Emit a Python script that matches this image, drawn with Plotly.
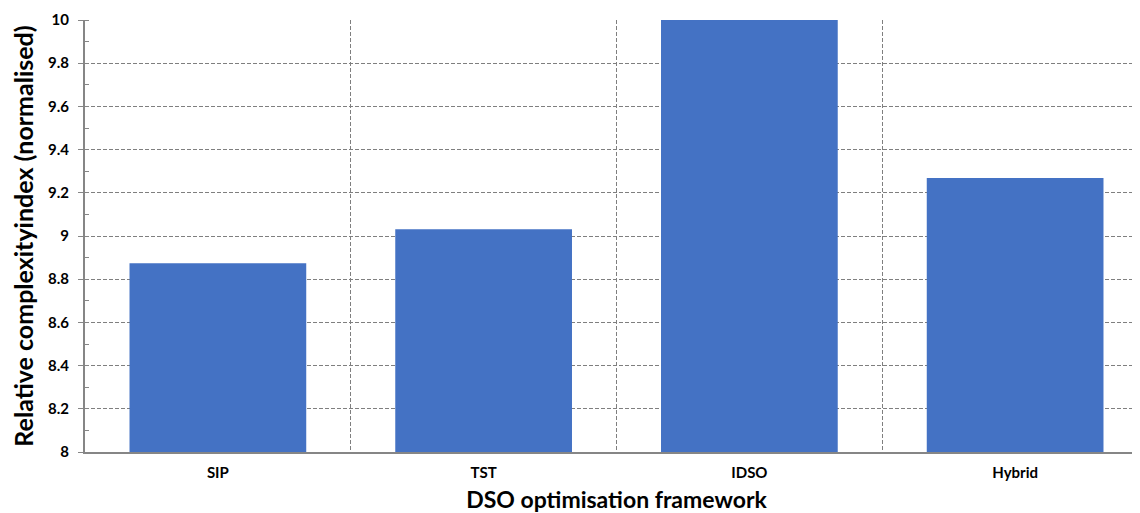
import plotly.graph_objects as go

categories = ["SIP", "TST", "IDSO", "Hybrid"]
values = [8.874, 9.031, 10.0, 9.268]
y_tickvals = [8, 8.2, 8.4, 8.6, 8.8, 9, 9.2, 9.4, 9.6, 9.8, 10]
y_ticktext = ["8", "8.2", "8.4", "8.6", "8.8", "9", "9.2", "9.4", "9.6", "9.8", "10"]

FONT = "Lato"
BAR = "#4472C4"
AXIS = "#868686"
GRID = "#7f7f7f"

fig = go.Figure()
fig.add_trace(go.Bar(
    x=categories, y=values, width=0.665,
    marker=dict(color=BAR, line=dict(width=0)),
))

fig.update_layout(
    width=1140, height=513,
    margin=dict(l=77, r=0, t=12, b=69),
    plot_bgcolor="white", paper_bgcolor="white",
    showlegend=False,
    font=dict(family=FONT, color="black"),
)
fig.update_xaxes(
    type="category",
    range=[-0.5, 3.5],
    tickson="boundaries",
    automargin=False,
    showgrid=True, gridcolor=GRID, griddash="4px,2px", gridwidth=1,
    showline=True, linecolor=AXIS, linewidth=2,
    ticks="", ticklen=0,
    ticklabelstandoff=6,
    tickfont=dict(family=FONT, size=15, color="black", weight="bold"),
    title=dict(text="<b>DSO optimisation framework</b>", font=dict(family=FONT, size=23), standoff=12),
    zeroline=False,
)
fig.update_yaxes(
    range=[8, 10],
    automargin=False,
    tickvals=y_tickvals, ticktext=y_ticktext,
    showgrid=True, gridcolor=GRID, griddash="4px,2px", gridwidth=1,
    showline=True, linecolor=AXIS, linewidth=2,
    ticks="outside", ticklen=5, tickcolor=AXIS, tickwidth=1,
    ticklabelstandoff=6,
    minor=dict(dtick=0.1, tick0=8, ticks="inside", ticklen=4, tickcolor=AXIS, showgrid=False),
    tickfont=dict(family=FONT, size=15, color="black", weight="bold"),
    title=dict(text="<b>Relative complexityindex (normalised)</b>", font=dict(family=FONT, size=25), standoff=14),
    zeroline=False,
)

fig.write_html("out.html")
